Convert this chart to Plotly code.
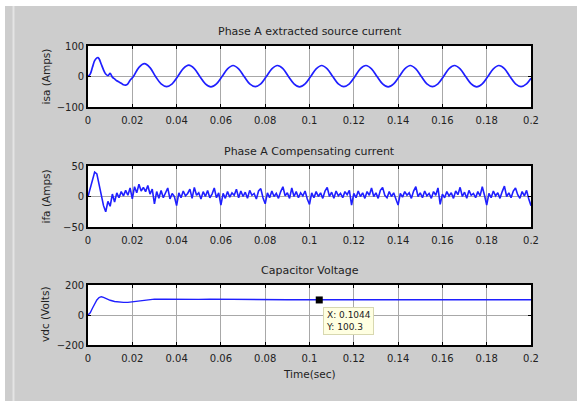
import numpy as np
import plotly.graph_objects as go
from plotly.subplots import make_subplots

# ---------------- data ----------------
# Phase A extracted source current (isa)
t_isa = [0, 0.001, 0.002, 0.003, 0.004, 0.0045, 0.005, 0.006, 0.007, 0.008, 0.009, 0.010,
         0.011, 0.012, 0.013, 0.014, 0.015, 0.016, 0.017, 0.018, 0.019,
         0.0205, 0.023, 0.0255, 0.028, 0.0305, 0.033, 0.0355, 0.038,
         0.0405, 0.043, 0.0455, 0.048, 0.0505, 0.053, 0.0555, 0.058,
         0.0605, 0.063, 0.0655, 0.068, 0.0705, 0.073, 0.0755, 0.078,
         0.0805, 0.083, 0.0855, 0.088, 0.0905, 0.093, 0.0955, 0.098,
         0.1005, 0.103, 0.1055, 0.108, 0.1105, 0.113, 0.1155, 0.118,
         0.1205, 0.123, 0.1255, 0.128, 0.1305, 0.133, 0.1355, 0.138,
         0.1405, 0.143, 0.1455, 0.148, 0.1505, 0.153, 0.1555, 0.158,
         0.1605, 0.163, 0.1655, 0.168, 0.1705, 0.173, 0.1755, 0.178,
         0.1805, 0.183, 0.1855, 0.188, 0.1905, 0.193, 0.1955, 0.198, 0.2]
isa = [0, 8, 30, 52, 61, 62, 58, 40, 22, 8, 3, 10,
       -2, -8, -14, -18, -22, -27, -28, -24, -12,
       0, 30, 42, 29, 0, -24, -33, -24,
       0, 26, 37, 26, 0, -24, -34, -24,
       0, 25, 36, 25, 0, -24, -33, -24,
       0, 25, 36, 26, 0, -24, -34, -24,
       0, 25, 36, 25, 0, -24, -33, -24,
       0, 26, 36, 25, 0, -24, -34, -24,
       0, 25, 36, 25, 0, -24, -33, -24,
       0, 26, 36, 25, 0, -24, -34, -24,
       0, 25, 36, 26, 0, -24, -33, -24, -6]

# Phase A compensating current (ifa), sampled every 1 ms
ifa = [0, 15, 30, 40, 37, 20, 0, -15, -25, -8,
       -16, 4, -9, 6, -2, 8, 1, 10, 2, 14,
       -4, 16, 6, 20, 9, 15, 8, 18, 4, 12,
       -12, 8, -3, 10, -2, 6, 14, -4, 5, 0,
       -15, 6, -2, 9, 1, 5, 12, -3, 15, 2,
       6, -4, 8, 0, 10, -2, 4, 14, -2, 6,
       -14, 5, -3, 8, -1, 6, 2, 12, -2, 9,
       0, 7, -3, 10, 2, 5, -4, 9, 13, -2,
       -12, 6, -2, 9, 0, 5, -3, 8, 16, 1,
       6, -3, 14, 0, 8, -2, 6, 1, 9, -4,
       -13, 6, -2, 8, 0, 6, -3, 9, 15, 0,
       7, -3, 9, 1, 5, -2, 8, 3, 10, -14,
       5, -2, 9, 0, 6, -3, 8, 2, 14, 0,
       6, -3, 10, 15, 2, -2, 8, 0, 6, -4,
       -14, 5, -1, 8, 2, 6, -3, 9, 16, 0,
       6, -2, 9, 1, 5, -3, 8, 2, 14, -13,
       4, -2, 8, 1, 6, -3, 9, 3, 15, 0,
       7, -3, 10, 2, 5, -2, 8, 1, 16, 2,
       -14, 5, -2, 9, 1, 6, -3, 8, 17, 0,
       6, -2, 9, 14, 3, -3, 8, 1, 10, -4,
       -15]
t_ifa = np.round(np.arange(len(ifa)) * 0.001, 3)

# Capacitor voltage (vdc)
t_vdc = [0, 0.001, 0.002, 0.003, 0.004, 0.005, 0.006, 0.007, 0.008, 0.010, 0.012,
         0.014, 0.016, 0.018, 0.020, 0.022, 0.024, 0.026, 0.028, 0.030, 0.035,
         0.040, 0.045, 0.050, 0.055, 0.060, 0.065, 0.070, 0.080, 0.090, 0.100,
         0.110, 0.113, 0.115, 0.123, 0.125, 0.127, 0.133, 0.135, 0.137, 0.145,
         0.153, 0.155, 0.157, 0.163, 0.165, 0.167, 0.175, 0.177, 0.179, 0.185,
         0.187, 0.189, 0.195, 0.197, 0.199, 0.2]
vdc = [0, 15, 45, 75, 100, 116, 122, 118, 110, 98, 90,
       86, 84, 84, 88, 92, 96, 100, 104, 106, 105,
       104, 106, 104, 106, 105, 103, 102, 102, 102, 102,
       102, 102, 97, 102, 102, 97, 102, 102, 97, 102,
       102, 97, 102, 102, 97, 102, 102, 97, 102, 102,
       97, 102, 102, 97, 102, 102]

tip_x = [0.1044]
tip_y = [100.3]

x_ticks = [0, 0.02, 0.04, 0.06, 0.08, 0.1, 0.12, 0.14, 0.16, 0.18, 0.2]
x_tick_text = ["0", "0.02", "0.04", "0.06", "0.08", "0.1", "0.12", "0.14", "0.16", "0.18", "0.2"]

titles = ["Phase A extracted source current", "Phase A Compensating current", "Capacitor Voltage"]
ylabels = ["isa (Amps)", "ifa (Amps)", "vdc (Volts)"]
y_ranges = [[-100, 100], [-50, 50], [-200, 200]]
y_ticks = [[-100, 0, 100], [-50, 0, 50], [-200, 0, 200]]

# ---------------- figure ----------------
W, H = 577, 401
L, R, T, B = 88, 46, 46, 56
PH = H - T - B  # 299
FONT = "DejaVu Sans"
TXT = "#222222"
BLUE = "#1f1fff"
GRAY = "#cdcdcd"

fig = make_subplots(rows=3, cols=1)

fig.add_trace(go.Scatter(x=t_isa, y=isa, mode="lines", line=dict(color=BLUE, width=1.7, shape="spline"),
                         showlegend=False), row=1, col=1)
fig.add_trace(go.Scatter(x=t_ifa, y=ifa, mode="lines", line=dict(color=BLUE, width=1.6),
                         showlegend=False), row=2, col=1)
fig.add_trace(go.Scatter(x=t_vdc, y=vdc, mode="lines", line=dict(color=BLUE, width=1.4),
                         showlegend=False), row=3, col=1)
fig.add_trace(go.Scatter(x=tip_x, y=tip_y, mode="markers",
                         marker=dict(symbol="square", size=7, color="black"),
                         showlegend=False), row=3, col=1)

# axis pixel positions (top, bottom)
boxes = [(46, 107), (166, 227), (285, 345)]
def py(p):
    return (H - B - p) / PH

for i in range(3):
    top, bot = boxes[i]
    yd = [py(bot), py(top)]
    ya = "yaxis" if i == 0 else f"yaxis{i+1}"
    fig.layout[ya].update(domain=yd)
    fig.update_xaxes(range=[0, 0.2], tickvals=x_ticks, ticktext=x_tick_text,
                     showline=True, linecolor="black", linewidth=1.6, mirror="ticks",
                     ticks="inside", ticklen=3, tickcolor="black",
                     showgrid=True, gridcolor="#a8a8a8", gridwidth=1,
                     zeroline=False, ticklabelstandoff=3,
                     tickfont=dict(family=FONT, size=10, color=TXT),
                     row=i + 1, col=1)
    fig.update_yaxes(range=y_ranges[i], tickvals=y_ticks[i],
                     showline=True, linecolor="black", linewidth=1.6, mirror="ticks",
                     ticks="inside", ticklen=3, tickcolor="black",
                     showgrid=True, gridcolor="#a8a8a8", gridwidth=1,
                     zeroline=False,
                     tickfont=dict(family=FONT, size=10, color=TXT),
                     row=i + 1, col=1)
    # title
    fig.add_annotation(text=titles[i], xref="paper", yref="paper", x=0.5, y=yd[1],
                       xanchor="center", yanchor="bottom", yshift=6, showarrow=False,
                       font=dict(family=FONT, size=11, color=TXT))
    # y label
    fig.add_annotation(text=ylabels[i], xref="paper", yref="paper",
                       x=(45 - L) / (W - L - R), y=(yd[0] + yd[1]) / 2,
                       xanchor="center", yanchor="middle", textangle=-90, showarrow=False,
                       font=dict(family=FONT, size=10.5, color=TXT))

# x label
fig.add_annotation(text="Time(sec)", xref="paper", yref="paper", x=0.5, y=py(374),
                   xanchor="center", yanchor="middle", showarrow=False,
                   font=dict(family=FONT, size=10.5, color=TXT))

# data tip
fig.add_annotation(text="X: 0.1044<br>Y: 100.3", x=tip_x[0], y=tip_y[0], xref="x3", yref="y3",
                   xanchor="left", yanchor="top", xshift=4, yshift=-7, showarrow=False,
                   align="left", bgcolor="#ffffe1", bordercolor="#d8d8b0", borderwidth=1,
                   borderpad=2, font=dict(family=FONT, size=9, color=TXT))

def px(p):
    return (p - L) / (W - L - R)

# outer frame: white strips at top and left, light line
fig.add_shape(type="rect", xref="paper", yref="paper", x0=px(-5), x1=px(W + 5),
              y0=py(6), y1=py(-5), fillcolor="white", line_width=0, layer="below")
fig.add_shape(type="rect", xref="paper", yref="paper", x0=px(-5), x1=px(5),
              y0=py(H + 5), y1=py(-5), fillcolor="white", line_width=0, layer="below")
fig.add_shape(type="rect", xref="paper", yref="paper", x0=px(12.5), x1=px(14.5),
              y0=py(H + 5), y1=py(6), fillcolor="#e4e4e4", line_width=0, layer="below")

fig.update_layout(width=W, height=H, margin=dict(l=L, r=R, t=T, b=B, autoexpand=False),
                  paper_bgcolor=GRAY, plot_bgcolor="white",
                  font=dict(family=FONT, color=TXT))

fig.write_html("out.html")
